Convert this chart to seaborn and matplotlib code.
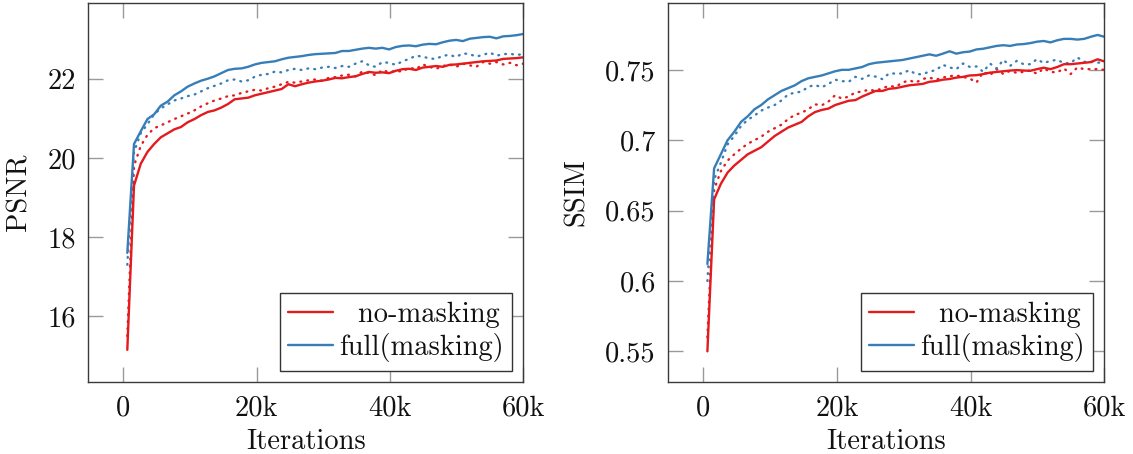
import numpy as np
import pandas as pd
import matplotlib
matplotlib.use("Agg")
import matplotlib.pyplot as plt
import seaborn as sns

# ---------------- data ----------------
iterations = np.linspace(600, 60000, 60)

psnr_nomask = [15.15, 19.30, 19.85, 20.15, 20.35, 20.52, 20.62, 20.72, 20.78, 20.90,
               20.98, 21.08, 21.16, 21.20, 21.27, 21.36, 21.48, 21.50, 21.52, 21.58,
               21.62, 21.66, 21.70, 21.74, 21.86, 21.81, 21.86, 21.90, 21.93, 21.95,
               21.98, 22.02, 22.01, 22.04, 22.06, 22.12, 22.17, 22.15, 22.16, 22.14,
               22.20, 22.24, 22.25, 22.22, 22.28, 22.30, 22.32, 22.30, 22.35, 22.36,
               22.38, 22.40, 22.42, 22.44, 22.45, 22.46, 22.50, 22.51, 22.52, 22.54]
psnr_full = [17.60, 20.35, 20.67, 20.98, 21.10, 21.32, 21.42, 21.58, 21.68, 21.80,
             21.88, 21.95, 22.00, 22.06, 22.14, 22.22, 22.25, 22.26, 22.30, 22.36,
             22.40, 22.42, 22.44, 22.49, 22.53, 22.55, 22.57, 22.60, 22.62, 22.63,
             22.64, 22.65, 22.70, 22.70, 22.73, 22.76, 22.78, 22.76, 22.78, 22.74,
             22.80, 22.83, 22.84, 22.82, 22.86, 22.88, 22.87, 22.92, 22.96, 22.98,
             22.95, 23.01, 23.03, 23.05, 23.06, 23.02, 23.07, 23.08, 23.10, 23.13]
psnr_nomask_dot = [15.50, 19.80, 20.30, 20.58, 20.75, 20.82, 20.90, 20.98, 21.05, 21.12,
                   21.20, 21.30, 21.38, 21.45, 21.50, 21.56, 21.58, 21.64, 21.68, 21.72,
                   21.70, 21.76, 21.80, 21.86, 21.92, 21.90, 21.93, 21.96, 21.98, 21.95,
                   22.02, 22.04, 22.08, 22.10, 22.06, 22.18, 22.14, 22.09, 22.22, 22.16,
                   22.20, 22.18, 22.28, 22.24, 22.36, 22.30, 22.25, 22.32, 22.36, 22.30,
                   22.38, 22.34, 22.30, 22.42, 22.38, 22.42, 22.36, 22.40, 22.34, 22.38]
psnr_full_dot = [17.30, 20.15, 20.62, 20.85, 21.10, 21.25, 21.35, 21.45, 21.50, 21.56,
                 21.60, 21.68, 21.76, 21.82, 21.88, 21.96, 21.98, 21.93, 21.96, 22.05,
                 22.10, 22.12, 22.18, 22.16, 22.22, 22.25, 22.22, 22.26, 22.24, 22.28,
                 22.30, 22.27, 22.32, 22.30, 22.38, 22.44, 22.34, 22.30, 22.42, 22.40,
                 22.35, 22.44, 22.50, 22.58, 22.56, 22.51, 22.50, 22.58, 22.60, 22.55,
                 22.64, 22.62, 22.56, 22.60, 22.66, 22.58, 22.62, 22.63, 22.60, 22.62]

ssim_nomask = [0.550, 0.658, 0.669, 0.677, 0.682, 0.686, 0.690, 0.6925, 0.695, 0.699,
               0.703, 0.706, 0.709, 0.711, 0.713, 0.717, 0.720, 0.7215, 0.7225, 0.725,
               0.7265, 0.728, 0.7285, 0.731, 0.733, 0.735, 0.735, 0.7365, 0.737, 0.738,
               0.739, 0.7395, 0.740, 0.7415, 0.742, 0.743, 0.7435, 0.7445, 0.745, 0.746,
               0.7462, 0.747, 0.748, 0.7485, 0.749, 0.7495, 0.7498, 0.7495, 0.7493, 0.7505,
               0.7515, 0.7505, 0.752, 0.754, 0.754, 0.7545, 0.755, 0.7555, 0.7575, 0.756]
ssim_full = [0.612, 0.680, 0.690, 0.700, 0.706, 0.713, 0.717, 0.722, 0.725, 0.729,
             0.732, 0.735, 0.737, 0.739, 0.742, 0.744, 0.745, 0.746, 0.7475, 0.749,
             0.750, 0.750, 0.751, 0.752, 0.754, 0.755, 0.7555, 0.756, 0.7565, 0.757,
             0.758, 0.759, 0.760, 0.761, 0.760, 0.7615, 0.7632, 0.7615, 0.7625, 0.763,
             0.7645, 0.765, 0.766, 0.767, 0.7675, 0.767, 0.768, 0.7683, 0.769, 0.770,
             0.7705, 0.7695, 0.771, 0.772, 0.772, 0.7715, 0.772, 0.7735, 0.7748, 0.7735]
ssim_nomask_dot = [0.560, 0.665, 0.678, 0.6855, 0.690, 0.694, 0.6975, 0.700, 0.7025, 0.706,
                   0.7085, 0.711, 0.715, 0.718, 0.7195, 0.722, 0.7255, 0.7248, 0.7275, 0.732,
                   0.7295, 0.731, 0.734, 0.7345, 0.736, 0.735, 0.737, 0.7385, 0.738, 0.741,
                   0.7425, 0.741, 0.7435, 0.7445, 0.743, 0.7445, 0.7455, 0.746, 0.745, 0.7438,
                   0.741, 0.7485, 0.7462, 0.7505, 0.747, 0.7493, 0.7478, 0.7486, 0.7495, 0.7472,
                   0.751, 0.7485, 0.7482, 0.751, 0.747, 0.7517, 0.7505, 0.7505, 0.7505, 0.750]
ssim_full_dot = [0.600, 0.672, 0.684, 0.697, 0.703, 0.710, 0.7145, 0.7175, 0.721, 0.7232,
                 0.725, 0.7282, 0.7325, 0.7338, 0.7345, 0.738, 0.7392, 0.7376, 0.740, 0.743,
                 0.742, 0.7415, 0.745, 0.7436, 0.746, 0.7452, 0.7434, 0.7474, 0.7474, 0.7474,
                 0.7498, 0.7469, 0.7469, 0.7488, 0.7498, 0.7536, 0.7517, 0.7505, 0.7545, 0.7521,
                 0.7524, 0.7486, 0.7545, 0.751, 0.7571, 0.7528, 0.7564, 0.754, 0.754, 0.7576,
                 0.7548, 0.7564, 0.7571, 0.7548, 0.7548, 0.7588, 0.7557, 0.7557, 0.7552, 0.7548]

series_labels = ["no-masking", "full(masking)"]
x_ticks = [0, 20000, 40000, 60000]
x_ticklabels = ["0", "20k", "40k", "60k"]
psnr_ticks = [16, 18, 20, 22]
psnr_ticklabels = ["16", "18", "20", "22"]
ssim_ticks = [0.55, 0.60, 0.65, 0.70, 0.75]
ssim_ticklabels = ["0.55", "0.6", "0.65", "0.7", "0.75"]

# ---------------- style ----------------
sns.set_theme(style="white")
plt.rcParams["font.family"] = ["cmr10", "DejaVu Serif"]
plt.rcParams["mathtext.fontset"] = "cm"
plt.rcParams["axes.unicode_minus"] = False
FS = 20.5

RED = "#e41a1c"
BLUE = "#377eb8"
LW = 1.7

fig = plt.figure(figsize=(11.33, 4.54), dpi=100)
ax1 = fig.add_axes([88.3 / 1133, 1 - 382.3 / 454, 435.0 / 1133, 379.6 / 454])
ax2 = fig.add_axes([668.3 / 1133, 1 - 382.3 / 454, 436.0 / 1133, 379.6 / 454])


def draw(ax, nomask, full, nomask_dot, full_dot):
    df = pd.DataFrame({"it": iterations, "nm": nomask, "fu": full,
                       "nmd": nomask_dot, "fud": full_dot})
    sns.lineplot(data=df, x="it", y="nmd", ax=ax, color=RED, lw=LW,
                 linestyle=(0, (0.35, 2.6)), dash_capstyle="round", legend=False)
    sns.lineplot(data=df, x="it", y="fud", ax=ax, color=BLUE, lw=LW,
                 linestyle=(0, (0.35, 2.6)), dash_capstyle="round", legend=False)
    sns.lineplot(data=df, x="it", y="nm", ax=ax, color=RED, lw=LW,
                 label=series_labels[0])
    sns.lineplot(data=df, x="it", y="fu", ax=ax, color=BLUE, lw=LW,
                 label=series_labels[1])
    ax.set_xlim(-5250, 60000)
    ax.set_xticks(x_ticks)
    ax.set_xticklabels(x_ticklabels)
    ax.tick_params(axis="both", which="major", direction="in", length=11,
                   width=1, color="#9a9a9a", labelsize=FS, pad=9,
                   top=True, right=True, bottom=True, left=True,
                   labelcolor="#111111")
    for s in ax.spines.values():
        s.set_color("#3a3a3a")
        s.set_linewidth(1.0)
    ax.set_xlabel("Iterations", fontsize=FS, color="#111111")
    ax.xaxis.set_label_coords(0.5, -0.122)
    handles, labels = ax.get_legend_handles_labels()
    leg = ax.legend(handles, ["  " + series_labels[0], series_labels[1]],
                    loc="lower right", fontsize=FS, frameon=True, fancybox=False,
                    framealpha=1.0, edgecolor="#333333", borderpad=0.3,
                    handlelength=1.58, handletextpad=0.2, labelspacing=0.2,
                    borderaxespad=0.4)
    leg.get_frame().set_linewidth(1.0)
    for t in leg.get_texts():
        t.set_color("#111111")


draw(ax1, psnr_nomask, psnr_full, psnr_nomask_dot, psnr_full_dot)
ax1.set_ylim(14.33, 23.92)
ax1.set_yticks(psnr_ticks)
ax1.set_yticklabels(psnr_ticklabels)
ax1.set_ylabel("PSNR", fontsize=FS, color="#111111")
ax1.yaxis.set_label_coords(-0.129, 0.5)

draw(ax2, ssim_nomask, ssim_full, ssim_nomask_dot, ssim_full_dot)
ax2.set_ylim(0.528, 0.7977)
ax2.set_yticks(ssim_ticks)
ax2.set_yticklabels(ssim_ticklabels)
ax2.set_ylabel("SSIM", fontsize=FS, color="#111111")
ax2.yaxis.set_label_coords(-0.18, 0.5)

fig.savefig("out.png", dpi=100)
